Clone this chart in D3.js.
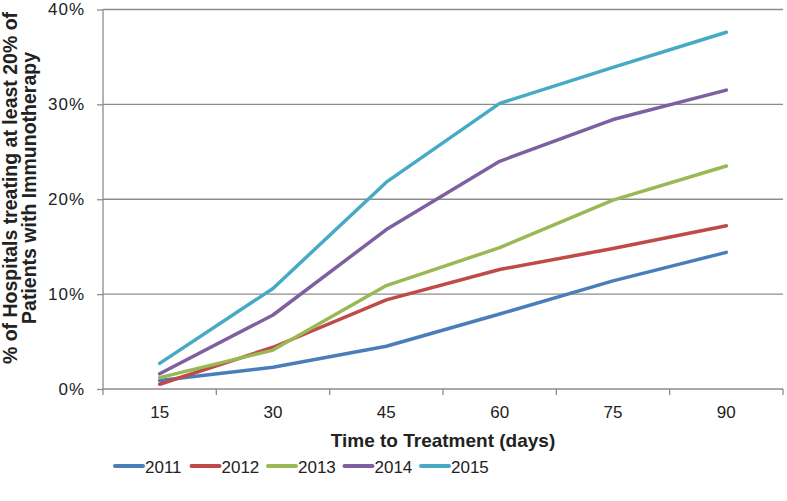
<!DOCTYPE html>
<html>
<head>
<meta charset="utf-8">
<script src="https://cdn.jsdelivr.net/npm/d3@7"></script>
<style>
  body { margin: 0; background: #fff; }
  svg text { font-family: "Liberation Sans", Arial, sans-serif; fill: #222; }
</style>
</head>
<body>
<div id="chart"></div>
<script>
var svgWidth = 787;
var svgHeight = 501;

var margin = { top: 9.5, right: 4, bottom: 112, left: 103 };
var width = svgWidth - margin.left - margin.right;
var height = svgHeight - margin.top - margin.bottom;

// data (percent)
var days = ["15", "30", "45", "60", "75", "90"];
var years = ["2011", "2012", "2013", "2014", "2015"];
var colors = ["#4A7EBB", "#BE4B48", "#98B954", "#7D60A0", "#46AAC5"];
var v2011 = [0.9, 2.3, 4.5, 7.9, 11.4, 14.4];
var v2012 = [0.5, 4.4, 9.4, 12.6, 14.8, 17.2];
var v2013 = [1.2, 4.1, 10.9, 14.9, 19.9, 23.5];
var v2014 = [1.6, 7.8, 16.8, 24.0, 28.4, 31.5];
var v2015 = [2.7, 10.6, 21.8, 30.1, 33.9, 37.6];
var yTicks = [0, 10, 20, 30, 40];

var seriesValues = [v2011, v2012, v2013, v2014, v2015];

var svg = d3.select("#chart")
  .append("svg")
  .attr("width", svgWidth)
  .attr("height", svgHeight);

var chartGroup = svg.append("g")
  .attr("transform", `translate(${margin.left}, ${margin.top})`);

var xBand = d3.scaleBand().domain(days).range([0, width]);
var xScale = function (d) { return xBand(d) + xBand.bandwidth() / 2; };

var yScale = d3.scaleLinear().domain([0, 40]).range([height, 0]);

// gridlines
chartGroup.selectAll(".grid")
  .data(yTicks.slice(1))
  .enter()
  .append("line")
  .attr("x1", 0)
  .attr("x2", width)
  .attr("y1", d => yScale(d))
  .attr("y2", d => yScale(d))
  .attr("stroke", "#8c8c8c")
  .attr("stroke-width", 1.3);

// y axis
var leftAxis = d3.axisLeft(yScale)
  .tickValues(yTicks)
  .tickSize(6)
  .tickPadding(12)
  .tickFormat(d => d + "%");
var yAxisG = chartGroup.append("g").call(leftAxis);
yAxisG.select(".domain").attr("stroke", "#8c8c8c").attr("stroke-width", 1.3).attr("d", `M0,0V${height}`);
yAxisG.selectAll(".tick line").attr("stroke", "#8c8c8c").attr("stroke-width", 1.3);
yAxisG.selectAll(".tick text")
  .attr("font-size", 17)
  .attr("letter-spacing", 1)
  .attr("fill", "#222");

// x axis
var xAxisG = chartGroup.append("g").attr("transform", `translate(0, ${height})`);
xAxisG.append("line")
  .attr("x1", 0).attr("x2", width)
  .attr("stroke", "#8c8c8c").attr("stroke-width", 1.3);
xAxisG.selectAll(".xtick")
  .data(d3.range(days.length + 1))
  .enter()
  .append("line")
  .attr("x1", i => i * xBand.bandwidth())
  .attr("x2", i => i * xBand.bandwidth())
  .attr("y1", 0).attr("y2", 6)
  .attr("stroke", "#8c8c8c").attr("stroke-width", 1.3);
xAxisG.selectAll(".xlabel")
  .data(days)
  .enter()
  .append("text")
  .attr("x", d => xScale(d))
  .attr("y", 29)
  .attr("text-anchor", "middle")
  .attr("font-size", 17)
  .text(d => d);

// axis titles
svg.append("text")
  .attr("x", margin.left + width / 2)
  .attr("y", 447)
  .attr("text-anchor", "middle")
  .attr("font-size", 19)
  .attr("font-weight", "bold")
  .text("Time to Treatment (days)");

var yTitle = svg.append("text")
  .attr("transform", "translate(17, 188) rotate(-90)")
  .attr("text-anchor", "middle")
  .attr("font-size", 19.5)
  .attr("font-weight", "bold");
yTitle.append("tspan").attr("x", 0).attr("dy", 0).text("% of Hospitals  treating at least 20% of");
yTitle.append("tspan").attr("x", 0).attr("dy", 19).text("Patients with Immunotherapy");

// lines
var line = d3.line()
  .x((d, i) => xScale(days[i]))
  .y(d => yScale(d));

chartGroup.selectAll(".series")
  .data(seriesValues)
  .enter()
  .append("path")
  .attr("d", d => line(d))
  .attr("fill", "none")
  .attr("stroke", (d, i) => colors[i])
  .attr("stroke-width", 3.5)
  .attr("stroke-linejoin", "round")
  .attr("stroke-linecap", "round");

// legend
var legend = svg.append("g").attr("transform", "translate(115, 466)");
var items = legend.selectAll(".item")
  .data(years)
  .enter()
  .append("g")
  .attr("transform", (d, i) => `translate(${i * 76.5}, 0)`);
items.append("line")
  .attr("x1", 0).attr("x2", 28)
  .attr("stroke", (d, i) => colors[i])
  .attr("stroke-width", 4)
  .attr("stroke-linecap", "round");
items.append("text")
  .attr("x", 30)
  .attr("y", 6.5)
  .attr("font-size", 17)
  .text(d => d);
</script>
</body>
</html>
